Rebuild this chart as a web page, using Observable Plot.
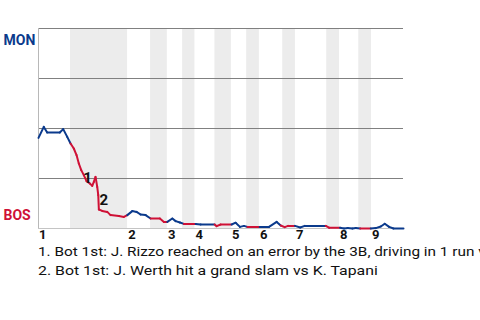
<!DOCTYPE html>
<html><head><meta charset="utf-8">
<script src="https://cdn.jsdelivr.net/npm/d3@7"></script>
<script src="https://cdn.jsdelivr.net/npm/@observablehq/plot@0.6"></script>
<style>
html,body{margin:0;padding:0;background:#fff;overflow:hidden;width:480px;height:320px;}
#chart svg{display:block}
#notes{font-family:Roboto,sans-serif;font-size:13px;line-height:19px;color:#111;margin-top:-2.3px;padding-left:38px;white-space:nowrap;}
#notes div{transform-origin:0 0;}
</style></head><body>
<div id="chart"></div>
<div id="notes"></div>
<script>
// Team labels
const topTeam = "MON";
const bottomTeam = "BOS";

// Event position (plate-appearance index) and MON win probability
const eventX = [0, 1.25, 2.05, 5.02, 5.82, 6.77, 7.55, 8.32, 8.96, 9.50, 10.07, 10.68, 11.32, 12.10, 12.66, 13.04, 13.44, 13.84, 14.08, 14.22,
  15.02, 16.20, 16.98, 18.94, 20.11, 20.92, 22.10, 23.11, 24.05, 25.23, 26.41, 28.60, 29.55, 30.35, 31.53, 32.31, 33.32, 34.26, 37.02, 38.20,
  41.50, 41.97, 42.92, 45.51, 46.45, 47.47, 48.41, 49.21, 52.11, 54.31, 56.12, 57.07, 58.01, 58.79, 60.44, 61.66, 62.73, 67.68, 68.46, 71.05,
  71.99, 72.87, 73.97, 74.75, 75.81, 78.29, 79.47, 80.65, 81.59, 82.61, 83.64, 86];
const monWinProb = [0.453, 0.508, 0.480, 0.480, 0.497, 0.458, 0.425, 0.400, 0.367, 0.325, 0.292, 0.267, 0.237, 0.225, 0.213, 0.233, 0.258, 0.208, 0.167, 0.095,
  0.088, 0.083, 0.067, 0.062, 0.058, 0.067, 0.087, 0.083, 0.070, 0.067, 0.050, 0.050, 0.033, 0.033, 0.050, 0.037, 0.030, 0.023, 0.023, 0.020,
  0.020, 0.012, 0.020, 0.020, 0.029, 0.008, 0.013, 0.008, 0.008, 0.008, 0.033, 0.015, 0.007, 0.013, 0.013, 0.005, 0.013, 0.013, 0.004, 0.004,
  0.000, 0.002, 0.000, 0.002, 0.000, 0.000, 0.002, 0.010, 0.024, 0.008, 0.000, 0.000];

// Bottom half-innings (shaded)
const botStart = [7.55, 26.41, 33.96, 41.57, 49.05, 57.54, 67.91, 75.46];
const botEnd   = [20.99, 30.35, 36.86, 45.44, 52.04, 60.53, 70.91, 78.45];

// Inning labels on the axis
const inningStart = [0, 20.99, 30.35, 36.86, 45.44, 52.04, 60.53, 70.91, 78.45];
const inningLabels = ["1", "2", "3", "4", "5", "6", "7", "8", "9"];

// Annotations: index of the event point and note text
const noteIndex = [14, 19];
const noteLabels = ["1", "2"];
const noteTexts = [
  "1. Bot 1st: J. Rizzo reached on an error by the 3B, driving in 1 run vs K. Tapani",
  "2. Bot 1st: J. Werth hit a grand slam vs K. Tapani"
];
const noteStretch = [1.18, 1.22];

const blue = "#0b3a8c";
const red = "#cf1136";

const bands = botStart.map((s, i) => ({start: s, end: botEnd[i]}));
const inBottom = x => bands.some(b => x >= b.start && x <= b.end);
const segments = [];
for (let i = 1; i < eventX.length; i++) {
  const mid = (eventX[i - 1] + eventX[i]) / 2;
  segments.push({x1: eventX[i - 1], y1: monWinProb[i - 1], x2: eventX[i], y2: monWinProb[i], half: inBottom(mid) ? "bot" : "top"});
}
const innings = inningStart.map((s, i) => ({x: s, label: inningLabels[i]}));
const notes = noteIndex.map((k, i) => ({x: eventX[k], y: monWinProb[k], label: noteLabels[i]}));

const chart = Plot.plot({
  width: 480,
  height: 244,
  marginTop: 28,
  marginBottom: 16,
  marginLeft: 38,
  marginRight: 77,
  style: {fontFamily: "Roboto, sans-serif", background: "#fff"},
  x: {domain: [0, 86], axis: null},
  y: {domain: [0, 1], axis: null},
  color: {domain: ["top", "bot"], range: [blue, red]},
  marks: [
    Plot.rect(bands, {x1: "start", x2: "end", y1: 0, y2: 1, fill: "#ececec"}),
    Plot.ruleY([0.25, 0.5, 0.75, 1], {stroke: "#808080", strokeWidth: 1}),
    Plot.ruleY([0], {stroke: "#c4c4c4", strokeWidth: 1}),
    Plot.ruleX([0], {stroke: "#b8b8b8", strokeWidth: 1}),
    Plot.link(segments, {x1: "x1", y1: "y1", x2: "x2", y2: "y2", stroke: "half", strokeWidth: 2, strokeLinecap: "round"}),
    Plot.text([notes[0]], {x: "x", y: "y", text: "label", dx: -4.7, dy: -8, fontSize: 15, fontWeight: "bold", fill: "#111"}),
    Plot.text([notes[1]], {x: "x", y: "y", text: "label", dx: 5, dy: -9, fontSize: 15, fontWeight: "bold", fill: "#111"}),
    Plot.text(innings, {x: "x", text: "label", frameAnchor: "bottom", dx: 4.3, dy: 10, textAnchor: "middle", fontSize: 13, fontWeight: "bold", fill: "#111"}),
    Plot.text([topTeam], {text: d => d, frameAnchor: "top-left", dx: -35, dy: 7, textAnchor: "start", fontSize: 14, fontWeight: "bold", fill: blue}),
    Plot.text([bottomTeam], {text: d => d, frameAnchor: "bottom-left", dx: -35, dy: -8.5, textAnchor: "start", fontSize: 14, fontWeight: "bold", fill: red})
  ]
});
document.getElementById("chart").appendChild(chart);
const notesDiv = document.getElementById("notes");
noteTexts.forEach((t, i) => {
  const d = document.createElement("div");
  d.textContent = t;
  d.style.transform = `scaleX(${noteStretch[i]})`;
  notesDiv.appendChild(d);
});
</script>
</body></html>
